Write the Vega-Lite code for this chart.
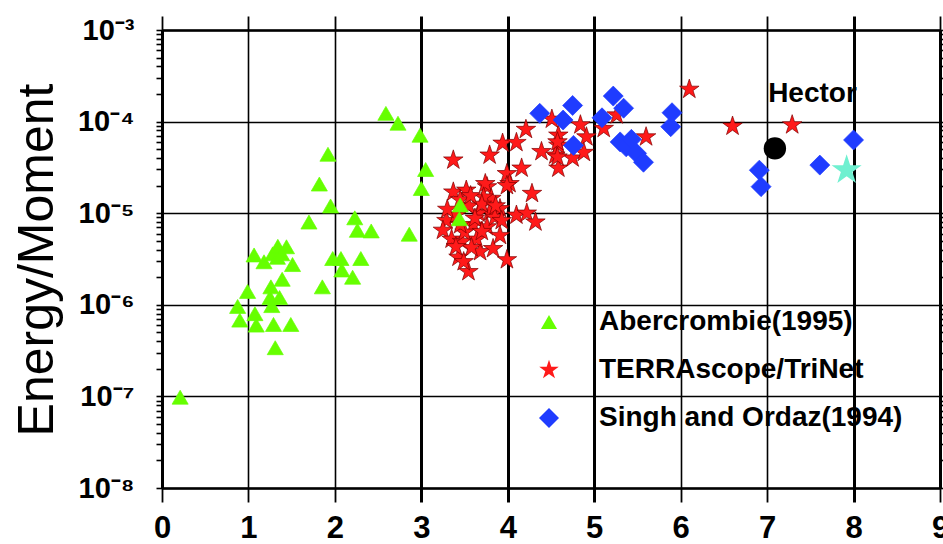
{
  "$schema": "https://vega.github.io/schema/vega-lite/v6.json",
  "width": 778,
  "height": 458,
  "autosize": {"type": "none"},
  "padding": {"left": 162, "top": 30, "right": 3, "bottom": 56},
  "background": "white",
  "config": {"view": {"stroke": null}, "font": "Liberation Sans"},
  "datasets": {
    "pts": [
      {"set": "TERRAscope/TriNet", "mag": 3.37, "er": 3.8e-5},
      {"set": "TERRAscope/TriNet", "mag": 3.79, "er": 4.3e-5},
      {"set": "TERRAscope/TriNet", "mag": 3.94, "er": 5.8e-5},
      {"set": "TERRAscope/TriNet", "mag": 4.10, "er": 5.9e-5},
      {"set": "TERRAscope/TriNet", "mag": 4.21, "er": 8.2e-5},
      {"set": "TERRAscope/TriNet", "mag": 4.51, "er": 1.06e-4},
      {"set": "TERRAscope/TriNet", "mag": 4.84, "er": 9.2e-5},
      {"set": "TERRAscope/TriNet", "mag": 4.91, "er": 6.8e-5},
      {"set": "TERRAscope/TriNet", "mag": 4.585, "er": 7.1e-5},
      {"set": "TERRAscope/TriNet", "mag": 4.585, "er": 5.5e-5},
      {"set": "TERRAscope/TriNet", "mag": 4.55, "er": 4.3e-5},
      {"set": "TERRAscope/TriNet", "mag": 4.39, "er": 4.7e-5},
      {"set": "TERRAscope/TriNet", "mag": 4.585, "er": 3.1e-5},
      {"set": "TERRAscope/TriNet", "mag": 4.75, "er": 4.0e-5},
      {"set": "TERRAscope/TriNet", "mag": 4.88, "er": 4.6e-5},
      {"set": "TERRAscope/TriNet", "mag": 4.16, "er": 3.1e-5},
      {"set": "TERRAscope/TriNet", "mag": 3.99, "er": 2.7e-5},
      {"set": "TERRAscope/TriNet", "mag": 4.02, "er": 2.1e-5},
      {"set": "TERRAscope/TriNet", "mag": 4.28, "er": 1.64e-5},
      {"set": "TERRAscope/TriNet", "mag": 3.76, "er": 1.94e-5},
      {"set": "TERRAscope/TriNet", "mag": 5.11, "er": 8.4e-5},
      {"set": "TERRAscope/TriNet", "mag": 5.26, "er": 1.18e-4},
      {"set": "TERRAscope/TriNet", "mag": 5.60, "er": 6.8e-5},
      {"set": "TERRAscope/TriNet", "mag": 6.10, "er": 2.25e-4},
      {"set": "TERRAscope/TriNet", "mag": 6.60, "er": 8.9e-5},
      {"set": "TERRAscope/TriNet", "mag": 7.29, "er": 9.2e-5},
      {"set": "TERRAscope/TriNet", "mag": 3.99, "er": 2.0e-5},
      {"set": "TERRAscope/TriNet", "mag": 3.74, "er": 2.1e-5},
      {"set": "TERRAscope/TriNet", "mag": 3.37, "er": 1.7e-5},
      {"set": "TERRAscope/TriNet", "mag": 3.52, "er": 1.78e-5},
      {"set": "TERRAscope/TriNet", "mag": 4.10, "er": 9.5e-6},
      {"set": "TERRAscope/TriNet", "mag": 4.22, "er": 1.0e-5},
      {"set": "TERRAscope/TriNet", "mag": 4.32, "er": 8.0e-6},
      {"set": "TERRAscope/TriNet", "mag": 3.99, "er": 3.1e-6},
      {"set": "TERRAscope/TriNet", "mag": 3.545, "er": 2.3e-6},
      {"set": "TERRAscope/TriNet", "mag": 3.68, "er": 3.8e-6},
      {"set": "TERRAscope/TriNet", "mag": 3.83, "er": 4.1e-6},
      {"set": "TERRAscope/TriNet", "mag": 3.43, "er": 3.3e-6},
      {"set": "TERRAscope/TriNet", "mag": 3.29, "er": 8.3e-6},
      {"set": "TERRAscope/TriNet", "mag": 3.81, "er": 1.45e-5},
      {"set": "TERRAscope/TriNet", "mag": 3.91, "er": 1.12e-5},
      {"set": "TERRAscope/TriNet", "mag": 3.79, "er": 1.02e-5},
      {"set": "TERRAscope/TriNet", "mag": 3.66, "er": 1.0e-5},
      {"set": "TERRAscope/TriNet", "mag": 3.25, "er": 6.5e-6},
      {"set": "TERRAscope/TriNet", "mag": 3.60, "er": 7.4e-6},
      {"set": "TERRAscope/TriNet", "mag": 3.76, "er": 7.1e-6},
      {"set": "TERRAscope/TriNet", "mag": 3.91, "er": 5.7e-6},
      {"set": "TERRAscope/TriNet", "mag": 3.35, "er": 5.2e-6},
      {"set": "TERRAscope/TriNet", "mag": 3.47, "er": 4.9e-6},
      {"set": "TERRAscope/TriNet", "mag": 3.64, "er": 5.2e-6},
      {"set": "TERRAscope/TriNet", "mag": 3.49, "er": 2.95e-6},
      {"set": "TERRAscope/TriNet", "mag": 3.72, "er": 1.5e-5},
      {"set": "TERRAscope/TriNet", "mag": 3.45, "er": 1.4e-5},
      {"set": "TERRAscope/TriNet", "mag": 4.575, "er": 6.0e-5},
      {"set": "TERRAscope/TriNet", "mag": 4.575, "er": 4.1e-5},
      {"set": "TERRAscope/TriNet", "mag": 3.55, "er": 1.2e-5},
      {"set": "TERRAscope/TriNet", "mag": 3.70, "er": 1.25e-5},
      {"set": "TERRAscope/TriNet", "mag": 3.85, "er": 9.0e-6},
      {"set": "TERRAscope/TriNet", "mag": 3.62, "er": 8.8e-6},
      {"set": "TERRAscope/TriNet", "mag": 3.40, "er": 9.5e-6},
      {"set": "TERRAscope/TriNet", "mag": 3.50, "er": 6.2e-6},
      {"set": "TERRAscope/TriNet", "mag": 3.70, "er": 6.3e-6},
      {"set": "TERRAscope/TriNet", "mag": 3.86, "er": 1.2e-5},
      {"set": "TERRAscope/TriNet", "mag": 3.58, "er": 4.2e-6},
      {"set": "TERRAscope/TriNet", "mag": 3.40, "er": 4.3e-6},
      {"set": "TERRAscope/TriNet", "mag": 3.30, "er": 1.1e-5},
      {"set": "TERRAscope/TriNet", "mag": 3.45, "er": 7.5e-6},
      {"set": "TERRAscope/TriNet", "mag": 3.93, "er": 8.3e-6},
      {"set": "TERRAscope/TriNet", "mag": 3.57, "er": 1.55e-5},
      {"set": "Abercrombie(1995)", "mag": 0.21, "er": 9.8e-8},
      {"set": "Abercrombie(1995)", "mag": 0.875, "er": 9.6e-7},
      {"set": "Abercrombie(1995)", "mag": 0.90, "er": 6.8e-7},
      {"set": "Abercrombie(1995)", "mag": 0.99, "er": 1.4e-6},
      {"set": "Abercrombie(1995)", "mag": 1.065, "er": 3.5e-6},
      {"set": "Abercrombie(1995)", "mag": 1.075, "er": 8.0e-7},
      {"set": "Abercrombie(1995)", "mag": 1.09, "er": 6.0e-7},
      {"set": "Abercrombie(1995)", "mag": 1.18, "er": 2.95e-6},
      {"set": "Abercrombie(1995)", "mag": 1.25, "er": 1.2e-6},
      {"set": "Abercrombie(1995)", "mag": 1.26, "er": 1.57e-6},
      {"set": "Abercrombie(1995)", "mag": 1.27, "er": 9.8e-7},
      {"set": "Abercrombie(1995)", "mag": 1.28, "er": 3.6e-6},
      {"set": "Abercrombie(1995)", "mag": 1.29, "er": 6.1e-7},
      {"set": "Abercrombie(1995)", "mag": 1.31, "er": 3.4e-7},
      {"set": "Abercrombie(1995)", "mag": 1.335, "er": 3.3e-6},
      {"set": "Abercrombie(1995)", "mag": 1.34, "er": 4.35e-6},
      {"set": "Abercrombie(1995)", "mag": 1.36, "er": 1.2e-6},
      {"set": "Abercrombie(1995)", "mag": 1.385, "er": 3.6e-6},
      {"set": "Abercrombie(1995)", "mag": 1.39, "er": 1.9e-6},
      {"set": "Abercrombie(1995)", "mag": 1.44, "er": 4.3e-6},
      {"set": "Abercrombie(1995)", "mag": 1.49, "er": 6.1e-7},
      {"set": "Abercrombie(1995)", "mag": 1.51, "er": 2.75e-6},
      {"set": "Abercrombie(1995)", "mag": 1.70, "er": 8.0e-6},
      {"set": "Abercrombie(1995)", "mag": 1.82, "er": 2.08e-5},
      {"set": "Abercrombie(1995)", "mag": 1.855, "er": 1.57e-6},
      {"set": "Abercrombie(1995)", "mag": 1.92, "er": 4.4e-5},
      {"set": "Abercrombie(1995)", "mag": 1.95, "er": 1.2e-5},
      {"set": "Abercrombie(1995)", "mag": 1.975, "er": 3.2e-6},
      {"set": "Abercrombie(1995)", "mag": 2.07, "er": 3.2e-6},
      {"set": "Abercrombie(1995)", "mag": 2.08, "er": 2.4e-6},
      {"set": "Abercrombie(1995)", "mag": 2.205, "er": 2.0e-6},
      {"set": "Abercrombie(1995)", "mag": 2.23, "er": 8.9e-6},
      {"set": "Abercrombie(1995)", "mag": 2.26, "er": 6.5e-6},
      {"set": "Abercrombie(1995)", "mag": 2.30, "er": 3.2e-6},
      {"set": "Abercrombie(1995)", "mag": 2.42, "er": 6.4e-6},
      {"set": "Abercrombie(1995)", "mag": 2.59, "er": 1.23e-4},
      {"set": "Abercrombie(1995)", "mag": 2.73, "er": 9.6e-5},
      {"set": "Abercrombie(1995)", "mag": 2.86, "er": 5.9e-6},
      {"set": "Abercrombie(1995)", "mag": 2.985, "er": 7.1e-5},
      {"set": "Abercrombie(1995)", "mag": 3.00, "er": 1.86e-5},
      {"set": "Abercrombie(1995)", "mag": 3.05, "er": 3.0e-5},
      {"set": "Abercrombie(1995)", "mag": 3.44, "er": 8.7e-6},
      {"set": "Abercrombie(1995)", "mag": 3.45, "er": 1.23e-5},
      {"set": "Singh and Ordaz(1994)", "mag": 4.37, "er": 1.23e-4},
      {"set": "Singh and Ordaz(1994)", "mag": 4.64, "er": 1.04e-4},
      {"set": "Singh and Ordaz(1994)", "mag": 4.75, "er": 1.5e-4},
      {"set": "Singh and Ordaz(1994)", "mag": 4.76, "er": 5.5e-5},
      {"set": "Singh and Ordaz(1994)", "mag": 5.09, "er": 1.1e-4},
      {"set": "Singh and Ordaz(1994)", "mag": 5.22, "er": 1.9e-4},
      {"set": "Singh and Ordaz(1994)", "mag": 5.34, "er": 1.4e-4},
      {"set": "Singh and Ordaz(1994)", "mag": 5.30, "er": 6.0e-5},
      {"set": "Singh and Ordaz(1994)", "mag": 5.37, "er": 5.3e-5},
      {"set": "Singh and Ordaz(1994)", "mag": 5.43, "er": 6.4e-5},
      {"set": "Singh and Ordaz(1994)", "mag": 5.49, "er": 4.5e-5},
      {"set": "Singh and Ordaz(1994)", "mag": 5.57, "er": 3.6e-5},
      {"set": "Singh and Ordaz(1994)", "mag": 5.885, "er": 8.8e-5},
      {"set": "Singh and Ordaz(1994)", "mag": 5.90, "er": 1.25e-4},
      {"set": "Singh and Ordaz(1994)", "mag": 6.91, "er": 2.95e-5},
      {"set": "Singh and Ordaz(1994)", "mag": 6.93, "er": 1.95e-5},
      {"set": "Singh and Ordaz(1994)", "mag": 7.61, "er": 3.35e-5},
      {"set": "Singh and Ordaz(1994)", "mag": 8.00, "er": 6.3e-5}
    ],
    "hector": [{"name": "Hector", "mag": 7.09, "er": 5.1e-5}],
    "hstar": [{"name": "Hector star", "mag": 7.92, "er": 2.95e-5}],
    "hlabel": [{"label": "Hector", "mag": 7.525, "er": 2.0e-4}]
  },
  "layer": [
    {
      "data": {"name": "pts"},
      "mark": {"type": "point", "filled": true, "opacity": 1, "strokeWidth": 0.7},
      "encoding": {
        "x": {
          "field": "mag", "type": "quantitative",
          "scale": {"domain": [0, 9], "nice": false, "zero": false},
          "axis": {
            "orient": "bottom", "title": null, "format": "d",
            "values": [0, 1, 2, 3, 4, 5, 6, 7, 8, 9],
            "labelFont": "Liberation Sans", "labelFontSize": 31, "labelFontWeight": "bold", "labelColor": "black",
            "labelFlush": false, "labelOverlap": false, "labelPadding": 11,
            "tickSize": 14, "tickColor": "black",
            "tickWidth": {"condition": {"test": "datum.value==3||datum.value==4||datum.value==5||datum.value==8", "value": 3}, "value": 1.8},
            "domainColor": "black", "domainWidth": 2.5,
            "grid": true, "gridColor": "black", "gridOpacity": 1,
            "gridWidth": {"condition": {"test": "datum.value==3||datum.value==4||datum.value==5||datum.value==8", "value": 3}, "value": 1.6}
          }
        },
        "y": {
          "field": "er", "type": "quantitative",
          "scale": {"type": "log", "domain": [1e-8, 1e-3], "nice": false},
          "axis": {
            "orient": "left",
            "title": "Energy/Moment",
            "titleFont": "Liberation Sans", "titleFontSize": 50, "titleFontWeight": "normal", "titleColor": "black",
            "titleX": -110, "titleY": 229.5, "titleAngle": -90, "titleAlign": "center", "titleBaseline": "alphabetic",
            "values": [1e-8, 2e-8, 3e-8, 4e-8, 5e-8, 6e-8, 7e-8, 8e-8, 9e-8, 1e-7, 2e-7, 3e-7, 4e-7, 5e-7, 6e-7, 7e-7, 8e-7, 9e-7, 1e-6, 2e-6, 3e-6, 4e-6, 5e-6, 6e-6, 7e-6, 8e-6, 9e-6, 1e-5, 2e-5, 3e-5, 4e-5, 5e-5, 6e-5, 7e-5, 8e-5, 9e-5, 1e-4, 2e-4, 3e-4, 4e-4, 5e-4, 6e-4, 7e-4, 8e-4, 9e-4, 1e-3],
            "labelExpr": "abs(log(datum.value)/LN10 - round(log(datum.value)/LN10)) < 0.001 ? '10⁻' + ['','¹','²','³','⁴','⁵','⁶','⁷','⁸'][round(-log(datum.value)/LN10)] : ''",
            "labelFont": "Liberation Sans", "labelFontSize": 29, "labelFontWeight": "bold", "labelColor": "black",
            "labelPadding": 22, "labelOverlap": false, "labelBaseline": "middle",
            "tickSize": 6, "tickColor": "black", "tickWidth": 1.6,
            "domainColor": "black", "domainWidth": 3,
            "grid": true, "gridColor": "black", "gridWidth": 1.6,
            "gridOpacity": {"condition": {"test": "abs(log(datum.value)/LN10 - round(log(datum.value)/LN10)) < 0.001", "value": 1}, "value": 0}
          }
        },
        "color": {
          "field": "set", "type": "nominal",
          "scale": {"domain": ["Abercrombie(1995)", "TERRAscope/TriNet", "Singh and Ordaz(1994)"], "range": ["#66ff00", "#ff1a1a", "#1f3cff"]},
          "legend": {
            "title": null, "orient": "none", "legendX": 373, "legendY": 278,
            "labelFont": "Liberation Sans", "labelFontSize": 28, "labelFontWeight": "bold", "labelColor": "black",
            "labelOffset": 36, "rowPadding": 20, "symbolSize": 200, "symbolStrokeWidth": 0, "labelLimit": 400, "padding": 0
          }
        },
        "shape": {
          "field": "set", "type": "nominal",
          "scale": {"domain": ["Abercrombie(1995)", "TERRAscope/TriNet", "Singh and Ordaz(1994)"], "range": ["triangle-up", "M0,-1L0.2245,-0.309L0.951,-0.309L0.363,0.118L0.588,0.809L0,0.382L-0.588,0.809L-0.363,0.118L-0.951,-0.309L-0.2245,-0.309Z", "diamond"]}
        },
        "size": {
          "field": "set", "type": "nominal",
          "scale": {"type": "ordinal", "domain": ["Abercrombie(1995)", "TERRAscope/TriNet", "Singh and Ordaz(1994)"], "range": [260, 420, 400]},
          "legend": null
        },
        "stroke": {
          "field": "set", "type": "nominal",
          "scale": {"domain": ["Abercrombie(1995)", "TERRAscope/TriNet", "Singh and Ordaz(1994)"], "range": ["#66ff00", "#800000", "#1f3cff"]},
          "legend": null
        }
      }
    },
    {
      "data": {"name": "hector"},
      "mark": {"type": "circle", "color": "black", "opacity": 1, "size": 500},
      "encoding": {
        "x": {
          "field": "mag", "type": "quantitative",
          "scale": {"domain": [0, 9], "nice": false, "zero": false},
          "axis": {
            "orient": "top", "title": null, "labels": false,
            "values": [0, 1, 2, 3, 4, 5, 6, 7, 8, 9],
            "tickSize": 14, "tickColor": "black",
            "tickWidth": {"condition": {"test": "datum.value==3||datum.value==4||datum.value==5||datum.value==8", "value": 3}, "value": 1.8},
            "domainColor": "black", "domainWidth": 2.5, "grid": false
          }
        },
        "y": {
          "field": "er", "type": "quantitative",
          "scale": {"type": "log", "domain": [1e-8, 1e-3], "nice": false},
          "axis": {
            "orient": "right", "title": null, "labels": false,
            "values": [1e-8, 2e-8, 3e-8, 4e-8, 5e-8, 6e-8, 7e-8, 8e-8, 9e-8, 1e-7, 2e-7, 3e-7, 4e-7, 5e-7, 6e-7, 7e-7, 8e-7, 9e-7, 1e-6, 2e-6, 3e-6, 4e-6, 5e-6, 6e-6, 7e-6, 8e-6, 9e-6, 1e-5, 2e-5, 3e-5, 4e-5, 5e-5, 6e-5, 7e-5, 8e-5, 9e-5, 1e-4, 2e-4, 3e-4, 4e-4, 5e-4, 6e-4, 7e-4, 8e-4, 9e-4, 1e-3],
            "tickSize": 6, "tickColor": "black", "tickWidth": 1.6,
            "domainColor": "black", "domainWidth": 3, "grid": false
          }
        }
      }
    },
    {
      "data": {"name": "hstar"},
      "mark": {"type": "point", "shape": "M0,-1L0.2245,-0.309L0.951,-0.309L0.363,0.118L0.588,0.809L0,0.382L-0.588,0.809L-0.363,0.118L-0.951,-0.309L-0.2245,-0.309Z", "filled": true, "color": "#6ff0d0", "opacity": 1, "size": 1000},
      "encoding": {
        "x": {"field": "mag", "type": "quantitative", "scale": {"domain": [0, 9], "nice": false, "zero": false}, "axis": null},
        "y": {"field": "er", "type": "quantitative", "scale": {"type": "log", "domain": [1e-8, 1e-3], "nice": false}, "axis": null}
      }
    },
    {
      "data": {"name": "hlabel"},
      "mark": {"type": "text", "font": "Liberation Sans", "fontSize": 28, "fontWeight": "bold", "color": "black", "align": "center", "baseline": "middle"},
      "encoding": {
        "x": {"field": "mag", "type": "quantitative", "scale": {"domain": [0, 9], "nice": false, "zero": false}, "axis": null},
        "y": {"field": "er", "type": "quantitative", "scale": {"type": "log", "domain": [1e-8, 1e-3], "nice": false}, "axis": null},
        "text": {"field": "label", "type": "nominal"}
      }
    }
  ],
  "resolve": {"axis": {"x": "independent", "y": "independent"}}
}
